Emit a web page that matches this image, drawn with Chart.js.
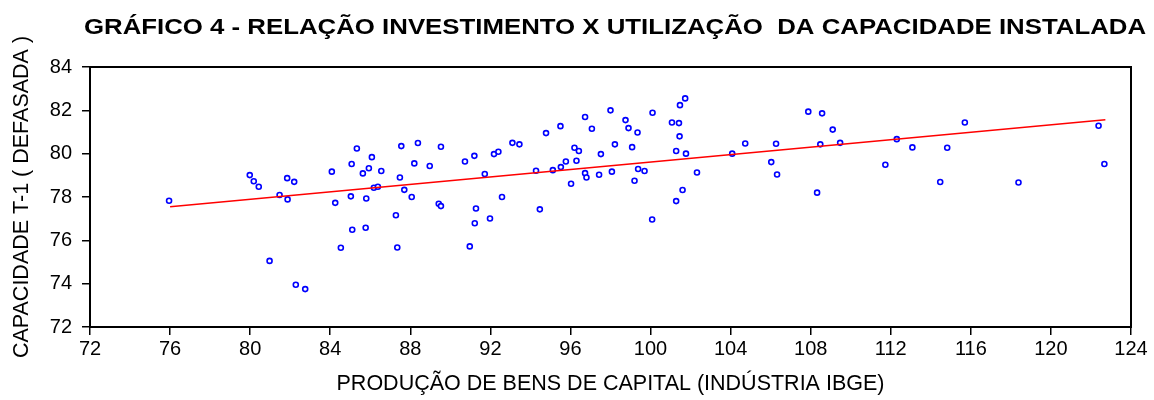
<!DOCTYPE html>
<html>
<head>
<meta charset="utf-8">
<script src="https://cdn.jsdelivr.net/npm/chart.js@4/dist/chart.umd.min.js"></script>
<style>
  html, body { margin: 0; padding: 0; background: #fff; }
  #wrap { width: 1154px; height: 400px; }
</style>
</head>
<body>
<div id="wrap"><canvas id="chart"></canvas></div>
<script>
// --- Data ---
const prodCapital = [75.95, 79.98, 80.18, 80.43, 80.97, 81.47, 81.85, 81.87, 82.2, 82.28,
    82.75, 84.08, 84.25, 84.53, 85.03, 85.07, 85.1, 85.33, 85.63, 85.77,
    85.8, 85.93, 86.08, 86.18, 86.38, 86.55, 87.28, 87.35, 87.48, 87.55,
    87.7, 88.07, 88.2, 88.38, 88.97, 89.42, 89.53, 89.53, 90.73, 90.97,
    91.2, 91.22, 91.28, 91.72, 91.98, 92.18, 92.4, 92.58, 93.1, 93.45,
    94.28, 94.47, 94.78, 95.12, 95.5, 95.52, 95.77, 96.03, 96.2, 96.3,
    96.42, 96.73, 96.73, 96.8, 97.07, 97.43, 97.52, 98.0, 98.07, 98.22,
    98.75, 98.9, 99.08, 99.2, 99.35, 99.38, 99.7, 100.1, 100.08, 101.07,
    101.42, 101.47, 101.73, 101.45, 101.28, 101.77, 102.32, 101.6, 101.28, 104.08,
    104.73, 106.03, 106.27, 106.32, 107.88, 108.57, 108.48, 108.32, 109.1, 109.47,
    111.73, 112.3, 113.08, 114.47, 114.82, 115.7, 118.38, 122.38, 122.67];

const capacidadeT1 = [77.83, 79.01, 78.73, 78.47, 75.05, 78.09, 78.87, 77.89, 78.70, 73.95,
    73.75, 79.17, 77.73, 75.66, 78.03, 79.52, 76.49, 80.24, 79.09, 76.58,
    77.93, 79.33, 79.84, 78.43, 78.47, 79.2, 77.16, 75.67, 78.9, 80.35,
    78.33, 78.0, 79.55, 80.49, 79.43, 77.69, 77.58, 80.32, 79.64, 75.72,
    79.9, 76.79, 77.47, 79.06, 77.01, 79.98, 80.09, 78.0, 80.5, 80.43,
    79.21, 77.43, 80.95, 79.24, 81.27, 79.38, 79.64, 78.61, 80.27, 79.67,
    80.12, 81.69, 79.1, 78.9, 81.15, 79.03, 79.98, 82.0, 79.17, 80.43,
    81.55, 81.18, 80.3, 78.75, 80.98, 79.29, 79.2, 81.89, 76.96, 81.44,
    81.41, 82.24, 82.55, 80.8, 80.12, 80.0, 79.13, 78.32, 77.81, 80.0,
    80.47, 79.61, 80.46, 79.04, 81.94, 81.86, 80.43, 78.2, 81.11, 80.5,
    79.49, 80.67, 80.29, 78.69, 80.27, 81.44, 78.67, 81.29, 79.52];

// fitted line, end points as drawn
const fitX = [76.0, 122.72];
const fitY = [77.55, 81.57];

const xTicks = [72, 76, 80, 84, 88, 92, 96, 100, 104, 108, 112, 116, 120, 124];
const yTicks = [72, 74, 76, 78, 80, 82, 84];

const chartTitle = 'GRÁFICO 4 - RELAÇÃO INVESTIMENTO X UTILIZAÇÃO  DA CAPACIDADE INSTALADA';

const FONT = '"Liberation Sans", Arial, sans-serif';

// --- Box around the plot area + wide bold title ---
const frameBox = {
    id: 'frameBox',
    afterDatasetsDraw(chart) {
        const { ctx, chartArea: a } = chart;
        ctx.save();
        ctx.strokeStyle = '#000';
        ctx.lineWidth = 2;
        ctx.strokeRect(a.left, a.top, a.right - a.left, a.bottom - a.top);
        ctx.restore();
    },
    afterDraw(chart) {
        const ctx = chart.ctx;
        ctx.save();
        ctx.font = 'bold 21.5px ' + FONT;
        ctx.fillStyle = '#000';
        ctx.textAlign = 'center';
        ctx.textBaseline = 'alphabetic';
        ctx.translate(615, 34);
        ctx.scale(1.2, 1);
        ctx.fillText(chartTitle, 0, 0);
        ctx.restore();
    }
};

new Chart(document.getElementById('chart').getContext('2d'), {
    type: 'scatter',
    data: {
        datasets: [{
            data: prodCapital.map((x, i) => ({ x, y: capacidadeT1[i] })),
            pointStyle: 'circle',
            pointRadius: 2.5,
            pointBorderWidth: 1.6,
            pointBorderColor: '#0000ff',
            pointBackgroundColor: '#ffffff',
            showLine: false,
            order: 2
        }, {
            type: 'line',
            data: fitX.map((x, i) => ({ x, y: fitY[i] })),
            borderColor: '#ff0000',
            borderWidth: 1.5,
            pointRadius: 0,
            fill: false,
            order: 1
        }]
    },
    options: {
        responsive: true,
        maintainAspectRatio: false,
        animation: false,
        layout: { padding: { top: 67, right: 23, bottom: 0, left: 0 } },
        plugins: {
            legend: { display: false },
            tooltip: { enabled: false },
            title: { display: false }
        },
        scales: {
            x: {
                type: 'linear',
                min: 72, max: 124,
                afterBuildTicks: s => { s.ticks = xTicks.map(v => ({ value: v })); },
                afterFit: s => { s.height = 73; },
                ticks: { color: '#000', font: { family: FONT, size: 20 }, padding: 2, maxRotation: 0 },
                grid: { drawOnChartArea: false, drawTicks: true, tickLength: 8, color: '#000', lineWidth: 1.5 },
                border: { display: true, color: '#000', width: 2 },
                title: {
                    display: true,
                    text: 'PRODUÇÃO DE BENS DE CAPITAL (INDÚSTRIA IBGE)',
                    color: '#000',
                    font: { family: FONT, size: 21.5 },
                    padding: { top: 0, bottom: 3 }
                }
            },
            y: {
                type: 'linear',
                min: 72, max: 84,
                afterBuildTicks: s => { s.ticks = yTicks.map(v => ({ value: v })); },
                afterFit: s => { s.width = 90; },
                ticks: { color: '#000', font: { family: FONT, size: 20 }, padding: 10 },
                grid: { drawOnChartArea: false, drawTicks: true, tickLength: 8, color: '#000', lineWidth: 1.5 },
                border: { display: true, color: '#000', width: 2 },
                title: {
                    display: true,
                    text: 'CAPACIDADE T-1 ( DEFASADA )',
                    color: '#000',
                    font: { family: FONT, size: 21.5 },
                    padding: { top: 9, bottom: 0 }
                }
            }
        }
    },
    plugins: [frameBox]
});
</script>
</body>
</html>
